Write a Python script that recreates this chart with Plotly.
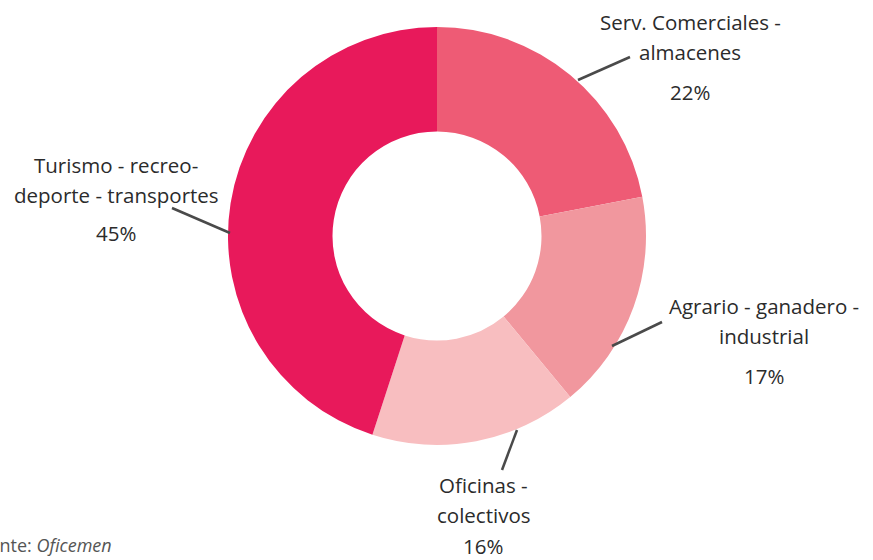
import plotly.graph_objects as go

# Data
categories = [
    "Serv. Comerciales -<br>almacenes",
    "Agrario - ganadero -<br>industrial",
    "Oficinas -<br>colectivos",
    "Turismo - recreo-<br>deporte - transportes",
]
shares = [22, 17, 16, 45]
colors = ["#EE5B75", "#F1979E", "#F8BEC0", "#E8195B"]

W, H = 873, 560
cx, cy, r = 437, 236, 209  # donut centre and outer radius in pixels


def px(x):
    return x / W


def py(y):
    return 1 - y / H


fig = go.Figure(
    go.Pie(
        labels=[c.replace("<br>", " ") for c in categories],
        values=shares,
        hole=0.5,
        sort=False,
        direction="clockwise",
        rotation=0,
        marker=dict(colors=colors, line=dict(width=0)),
        textinfo="none",
        hoverinfo="label+percent",
        showlegend=False,
        domain=dict(x=[px(cx - r), px(cx + r)], y=[py(cy + r), py(cy - r)]),
    )
)

font_family = "Open Sans, Lato, sans-serif"
txt_color = "#2b2b2b"
font_size = 20.5
line_gap = 30

# label placement: (centre x, first line y, percent y, leader line x0, y0, x1, y1)
placements = [
    (690, 22, 92, 578, 80, 630, 57),
    (764, 306, 376, 612, 346, 662, 322),
    (483, 485, 546, 517, 430, 502, 470),
    (116, 165, 233, 230, 233, 172, 208),
]

annotations = []
shapes = []
for name, val, (lx, ly, pyv, x0, y0, x1, y1) in zip(categories, shares, placements):
    for i, line in enumerate(name.split("<br>")):
        annotations.append(dict(
            x=px(lx), y=py(ly + i * line_gap), xref="paper", yref="paper",
            text=line, showarrow=False, xanchor="center", yanchor="middle",
            font=dict(family=font_family, size=font_size, color=txt_color),
        ))
    annotations.append(dict(
        x=px(lx), y=py(pyv), xref="paper", yref="paper",
        text=f"{val}%", showarrow=False, xanchor="center", yanchor="middle",
        font=dict(family=font_family, size=font_size, color=txt_color),
    ))
    shapes.append(dict(
        type="line", xref="paper", yref="paper",
        x0=px(x0), y0=py(y0), x1=px(x1), y1=py(y1),
        line=dict(color="#4a4a4a", width=2.5),
    ))

# source note
annotations.append(dict(
    x=px(-33), y=py(545), xref="paper", yref="paper",
    text="Fuente: <i>Oficemen</i>", showarrow=False,
    xanchor="left", yanchor="middle",
    font=dict(family=font_family, size=18, color="#555555"),
))

fig.update_layout(
    width=W, height=H,
    margin=dict(l=0, r=0, t=0, b=0),
    paper_bgcolor="white",
    plot_bgcolor="white",
    annotations=annotations,
    shapes=shapes,
)

fig.write_html("out.html")
